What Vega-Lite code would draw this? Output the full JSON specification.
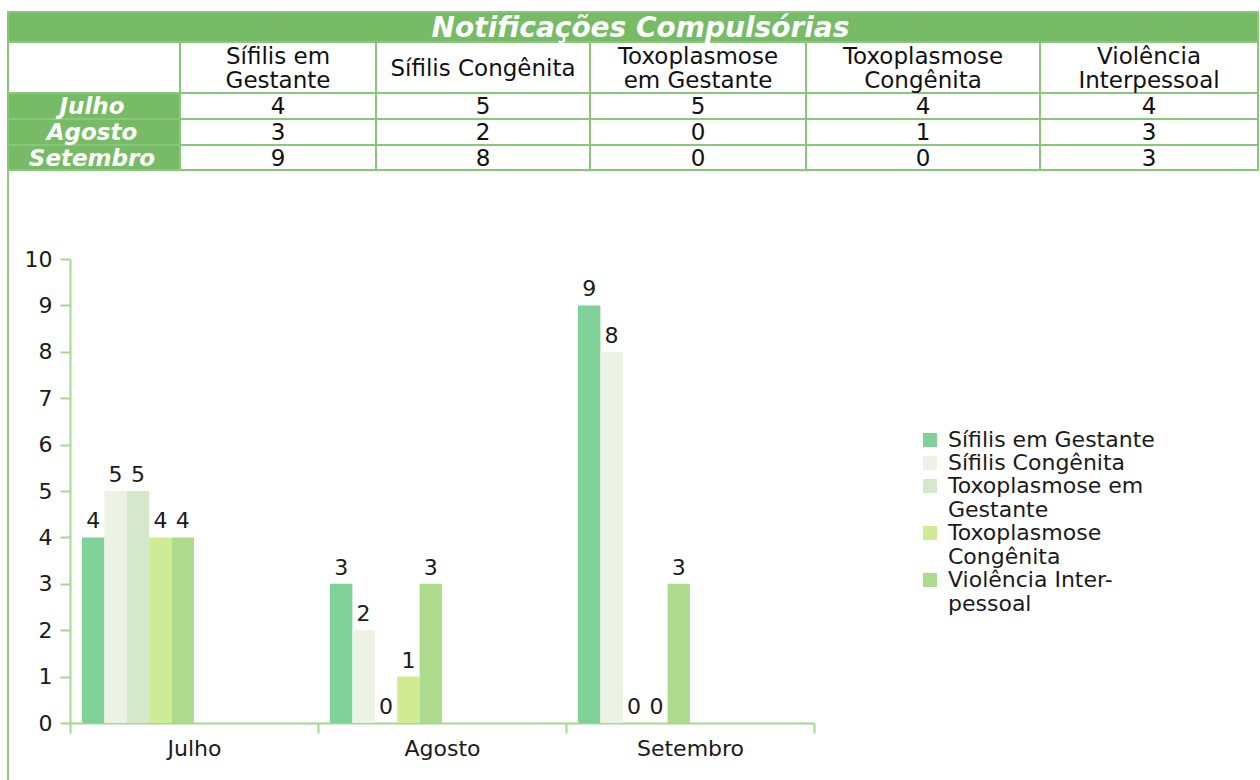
{
  "$schema": "https://vega.github.io/schema/vega-lite/v6.json",
  "width": 744,
  "height": 464,
  "padding": {"left": 7, "top": 11, "right": 1, "bottom": 0},
  "autosize": {"type": "pad"},
  "background": "white",
  "config": {
    "view": {"stroke": null},
    "font": "DejaVu Sans",
    "axis": {"labelFont": "DejaVu Sans", "labelColor": "#1a1a1a", "domainColor": "#a3d98f", "tickColor": "#a3d98f", "domainWidth": 2, "tickWidth": 2, "grid": false, "title": null}
  },
  "datasets": {
    "notif": [
      {"month": "Julho", "series": "Sífilis em Gestante", "value": 4},
      {"month": "Julho", "series": "Sífilis Congênita", "value": 5},
      {"month": "Julho", "series": "Toxoplasmose em Gestante", "value": 5},
      {"month": "Julho", "series": "Toxoplasmose Congênita", "value": 4},
      {"month": "Julho", "series": "Violência Interpessoal", "value": 4},
      {"month": "Agosto", "series": "Sífilis em Gestante", "value": 3},
      {"month": "Agosto", "series": "Sífilis Congênita", "value": 2},
      {"month": "Agosto", "series": "Toxoplasmose em Gestante", "value": 0},
      {"month": "Agosto", "series": "Toxoplasmose Congênita", "value": 1},
      {"month": "Agosto", "series": "Violência Interpessoal", "value": 3},
      {"month": "Setembro", "series": "Sífilis em Gestante", "value": 9},
      {"month": "Setembro", "series": "Sífilis Congênita", "value": 8},
      {"month": "Setembro", "series": "Toxoplasmose em Gestante", "value": 0},
      {"month": "Setembro", "series": "Toxoplasmose Congênita", "value": 0},
      {"month": "Setembro", "series": "Violência Interpessoal", "value": 3}
    ],
    "cells": [
      {"kind": "title", "c0": 0, "c1": 6, "r0": 0, "r1": 1, "label": "Notificações Compulsórias"},
      {"kind": "head", "c0": 0, "c1": 1, "r0": 1, "r1": 2, "label": ""},
      {"kind": "head", "c0": 1, "c1": 2, "r0": 1, "r1": 2, "label": "Sífilis em\nGestante"},
      {"kind": "head", "c0": 2, "c1": 3, "r0": 1, "r1": 2, "label": "Sífilis Congênita"},
      {"kind": "head", "c0": 3, "c1": 4, "r0": 1, "r1": 2, "label": "Toxoplasmose\nem Gestante"},
      {"kind": "head", "c0": 4, "c1": 5, "r0": 1, "r1": 2, "label": "Toxoplasmose\nCongênita"},
      {"kind": "head", "c0": 5, "c1": 6, "r0": 1, "r1": 2, "label": "Violência\nInterpessoal"},
      {"kind": "month", "c0": 0, "c1": 1, "r0": 2, "r1": 3, "label": "Julho"},
      {"kind": "value", "c0": 1, "c1": 2, "r0": 2, "r1": 3, "label": "4"},
      {"kind": "value", "c0": 2, "c1": 3, "r0": 2, "r1": 3, "label": "5"},
      {"kind": "value", "c0": 3, "c1": 4, "r0": 2, "r1": 3, "label": "5"},
      {"kind": "value", "c0": 4, "c1": 5, "r0": 2, "r1": 3, "label": "4"},
      {"kind": "value", "c0": 5, "c1": 6, "r0": 2, "r1": 3, "label": "4"},
      {"kind": "month", "c0": 0, "c1": 1, "r0": 3, "r1": 4, "label": "Agosto"},
      {"kind": "value", "c0": 1, "c1": 2, "r0": 3, "r1": 4, "label": "3"},
      {"kind": "value", "c0": 2, "c1": 3, "r0": 3, "r1": 4, "label": "2"},
      {"kind": "value", "c0": 3, "c1": 4, "r0": 3, "r1": 4, "label": "0"},
      {"kind": "value", "c0": 4, "c1": 5, "r0": 3, "r1": 4, "label": "1"},
      {"kind": "value", "c0": 5, "c1": 6, "r0": 3, "r1": 4, "label": "3"},
      {"kind": "month", "c0": 0, "c1": 1, "r0": 4, "r1": 5, "label": "Setembro"},
      {"kind": "value", "c0": 1, "c1": 2, "r0": 4, "r1": 5, "label": "9"},
      {"kind": "value", "c0": 2, "c1": 3, "r0": 4, "r1": 5, "label": "8"},
      {"kind": "value", "c0": 3, "c1": 4, "r0": 4, "r1": 5, "label": "0"},
      {"kind": "value", "c0": 4, "c1": 5, "r0": 4, "r1": 5, "label": "0"},
      {"kind": "value", "c0": 5, "c1": 6, "r0": 4, "r1": 5, "label": "3"}
    ]
  },
  "layer": [
    {
      "data": {"name": "notif"},
      "encoding": {
        "x": {
          "field": "month", "type": "nominal", "sort": null,
          "scale": {"domain": ["Julho", "Agosto", "Setembro"], "paddingInner": 0, "paddingOuter": 0},
          "axis": {"orient": "bottom", "labelAngle": 0, "tickBand": "extent", "tickSize": 10, "labelPadding": 5, "labelFontSize": 22}
        },
        "xOffset": {
          "field": "series", "type": "nominal",
          "scale": {"domain": ["Sífilis em Gestante", "Sífilis Congênita", "Toxoplasmose em Gestante", "Toxoplasmose Congênita", "Violência Interpessoal", "_6", "_7", "_8", "_9", "_10"], "paddingInner": 0, "paddingOuter": 0.536}
        },
        "y": {
          "field": "value", "type": "quantitative",
          "scale": {"domain": [0, 10], "nice": false},
          "axis": {"orient": "left", "values": [0, 1, 2, 3, 4, 5, 6, 7, 8, 9, 10], "tickSize": 10, "labelPadding": 8, "labelFontSize": 22}
        }
      },
      "layer": [
        {
          "mark": {"type": "bar"},
          "encoding": {
            "color": {
              "field": "series", "type": "nominal",
              "scale": {"domain": ["Sífilis em Gestante", "Sífilis Congênita", "Toxoplasmose em Gestante", "Toxoplasmose Congênita", "Violência Interpessoal"], "range": ["#7fd197", "#ecf2e4", "#d6e8cb", "#cfec94", "#aedc8f"]},
              "legend": {
                "title": null, "orient": "none", "legendX": 849, "legendY": 170,
                "symbolType": "square", "symbolSize": 196, "symbolStrokeWidth": 0,
                "labelFont": "DejaVu Sans", "labelFontSize": 22, "labelColor": "#1a1a1a", "labelOffset": 7, "labelLimit": 400, "rowPadding": 1,
                "labelExpr": "datum.label == 'Toxoplasmose em Gestante' ? ['Toxoplasmose em', 'Gestante'] : datum.label == 'Toxoplasmose Congênita' ? ['Toxoplasmose', 'Congênita'] : datum.label == 'Violência Interpessoal' ? ['Violência Inter-', 'pessoal'] : datum.label"
              }
            }
          }
        },
        {
          "mark": {"type": "text", "baseline": "alphabetic", "dy": -9, "fontSize": 22, "color": "#1a1a1a", "font": "DejaVu Sans"},
          "encoding": {"text": {"field": "value", "type": "quantitative"}}
        }
      ]
    },
    {
      "data": {"name": "cells"},
      "layer": [
        {
          "encoding": {
            "x": {"field": "c0", "type": "quantitative", "axis": null, "scale": {"domain": [0, 1, 2, 3, 4, 5, 6], "range": [-62, 110, 306, 520, 736, 970, 1188], "nice": false, "zero": false}},
            "y": {"field": "r0", "type": "quantitative", "axis": null, "scale": {"domain": [0, 1, 2, 3, 4, 5, 6], "range": [-247, -217, -166, -140, -114, -89, 521], "nice": false, "zero": false}}
          },
          "layer": [
            {
              "mark": {"type": "rect", "stroke": "#86c97a", "strokeWidth": 2},
              "encoding": {
                "x2": {"field": "c1"},
                "y2": {"field": "r1"},
                "fill": {"condition": {"test": "datum.kind == 'title' || datum.kind == 'month'", "value": "#77bb66"}, "value": "#ffffff"}
              }
            },
            {
              "mark": {"type": "rule", "stroke": "#8dcf7d", "strokeWidth": 2},
              "encoding": {
                "x": {"datum": 0, "type": "quantitative"},
                "y": {"datum": 5, "type": "quantitative"},
                "y2": {"datum": 6}
              }
            }
          ]
        },
        {
          "encoding": {
            "x": {"field": "c0", "type": "quantitative", "axis": null, "scale": {"domain": [0, 1, 2, 3, 4, 5], "range": [22, 208, 413, 628, 853, 1079], "nice": false, "zero": false}},
            "y": {"field": "r0", "type": "quantitative", "axis": null, "scale": {"domain": [0, 1, 2, 3, 4], "range": [-230, -190, -152, -126, -100.5], "nice": false, "zero": false}}
          },
          "layer": [
            {
              "transform": [{"filter": "datum.kind == 'value' || (datum.kind == 'head' && indexof(datum.label, '\\n') < 0)"}],
              "mark": {"type": "text", "font": "DejaVu Sans", "fontSize": 23, "color": "#111111", "baseline": "middle", "align": "center"},
              "encoding": {"text": {"field": "label", "type": "nominal"}}
            },
            {
              "transform": [{"filter": "datum.kind == 'head' && indexof(datum.label, '\\n') >= 0"}],
              "mark": {"type": "text", "font": "DejaVu Sans", "fontSize": 23, "color": "#111111", "baseline": "middle", "align": "center", "lineBreak": "\n", "lineHeight": 24, "dy": -12},
              "encoding": {"text": {"field": "label", "type": "nominal"}}
            },
            {
              "transform": [{"filter": "datum.kind == 'month'"}],
              "mark": {"type": "text", "font": "DejaVu Sans", "fontSize": 23, "fontWeight": "bold", "fontStyle": "italic", "color": "#ffffff", "baseline": "middle", "align": "center"},
              "encoding": {"text": {"field": "label", "type": "nominal"}}
            },
            {
              "transform": [{"filter": "datum.kind == 'title'"}],
              "mark": {"type": "text", "font": "DejaVu Sans", "fontSize": 28, "fontWeight": "bold", "fontStyle": "italic", "color": "#ffffff", "baseline": "middle", "align": "center", "dx": 50},
              "encoding": {
                "x": {"datum": 2.5, "type": "quantitative"},
                "y": {"datum": 0, "type": "quantitative"},
                "text": {"field": "label", "type": "nominal"}
              }
            }
          ]
        }
      ],
      "resolve": {"scale": {"x": "independent", "y": "independent"}}
    }
  ],
  "resolve": {"scale": {"x": "independent", "y": "independent"}}
}
